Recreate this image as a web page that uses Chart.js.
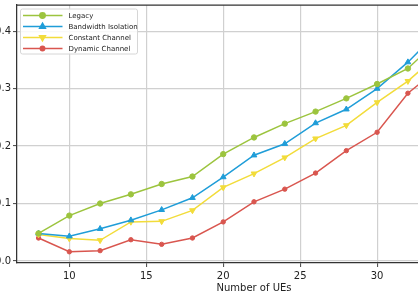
<!DOCTYPE html>
<html>
<head>
<meta charset="utf-8">
<script src="https://cdn.jsdelivr.net/npm/chart.js@4"></script>
<style>
html,body{margin:0;padding:0;background:#fff;overflow:hidden;width:418px;height:300px;}
#wrap{position:absolute;left:-20px;top:0;width:520px;height:300px;}
canvas{display:block;}
</style>
</head>
<body>
<div id="wrap"><canvas id="c" width="520" height="300"></canvas></div>
<script>
const numUEs      = [8, 10, 12, 14, 16, 18, 20, 22, 24, 26, 28, 30, 32, 34, 36];
const legacy      = [0.048, 0.079, 0.100, 0.116, 0.134, 0.147, 0.186, 0.215, 0.239, 0.260, 0.283, 0.308, 0.335, 0.385, 0.415];
const bandwidth   = [0.048, 0.043, 0.056, 0.071, 0.089, 0.110, 0.146, 0.184, 0.204, 0.240, 0.264, 0.300, 0.346, 0.400, 0.425];
const constant    = [0.046, 0.039, 0.036, 0.068, 0.069, 0.088, 0.128, 0.152, 0.180, 0.213, 0.236, 0.276, 0.313, 0.360, 0.395];
const dynamic     = [0.040, 0.016, 0.018, 0.037, 0.029, 0.040, 0.068, 0.103, 0.125, 0.153, 0.192, 0.224, 0.292, 0.335, 0.375];
const seriesNames = ['Legacy', 'Bandwidth Isolation', 'Constant Channel', 'Dynamic Channel'];
const xTicks = [10, 15, 20, 25, 30, 35];
const yTicks = [0.0, 0.1, 0.2, 0.3, 0.4];

const colors = ['#9cc43e', '#1f9dd8', '#f2dc3a', '#d9564f'];
const styles = [
  {pointStyle: 'circle', radius: 2.7, rotation: 0},
  {pointStyle: 'triangle', radius: 3.3, rotation: 0},
  {pointStyle: 'triangle', radius: 3.3, rotation: 180},
  {pointStyle: 'circle', radius: 2.2, rotation: 0}
];
const values = [legacy, bandwidth, constant, dynamic];

const datasets = values.map((vals, i) => ({
  label: seriesNames[i],
  data: numUEs.map((x, j) => ({x: x, y: vals[j]})),
  borderColor: colors[i],
  backgroundColor: colors[i],
  borderWidth: 1.5,
  pointStyle: styles[i].pointStyle,
  pointRadius: styles[i].radius,
  pointRotation: styles[i].rotation,
  pointBorderWidth: 1,
  tension: 0
}));

const frameAndLegend = {
  id: 'frameAndLegend',
  afterDatasetsDraw(chart) {
    const ctx = chart.ctx, ca = chart.chartArea;
    ctx.save();
    ctx.strokeStyle = '#333';
    ctx.lineWidth = 1.25;
    ctx.beginPath();
    ctx.moveTo(ca.left, ca.top);
    ctx.lineTo(ca.right, ca.top);
    ctx.lineTo(ca.right, ca.bottom);
    ctx.stroke();
    const bx = ca.left + 3.5, by = ca.top + 4, bw = 117, bh = 45;
    ctx.fillStyle = 'rgba(255,255,255,0.85)';
    ctx.strokeStyle = '#d6d6d6';
    ctx.lineWidth = 1;
    ctx.beginPath();
    if (ctx.roundRect) ctx.roundRect(bx, by, bw, bh, 2); else ctx.rect(bx, by, bw, bh);
    ctx.fill();
    ctx.stroke();
    ctx.font = '7px "DejaVu Sans"';
    ctx.textBaseline = 'middle';
    ctx.textAlign = 'left';
    chart.data.datasets.forEach((ds, i) => {
      const y = by + 6.5 + i * 11;
      ctx.strokeStyle = ds.borderColor;
      ctx.lineWidth = 1.5;
      ctx.beginPath();
      ctx.moveTo(bx + 2.5, y);
      ctx.lineTo(bx + 42, y);
      ctx.stroke();
      ctx.fillStyle = ds.backgroundColor;
      Chart.helpers.drawPoint(ctx, {pointStyle: ds.pointStyle, radius: ds.pointRadius, rotation: ds.pointRotation, borderWidth: 1}, bx + 22, y);
      ctx.fillStyle = '#222';
      ctx.fillText(ds.label, bx + 48, y + 0.5);
    });
    ctx.restore();
  }
};

new Chart(document.getElementById('c'), {
  type: 'line',
  data: {datasets: datasets},
  plugins: [frameAndLegend],
  options: {
    responsive: false,
    animation: false,
    devicePixelRatio: 1,
    layout: {padding: {left: 0, right: 9, top: 4, bottom: 0}},
    plugins: {legend: {display: false}, tooltip: {enabled: false}},
    scales: {
      x: {
        type: 'linear',
        min: 6.6,
        max: 37.4,
        afterBuildTicks: s => { s.ticks = xTicks.map(v => ({value: v})); },
        afterFit: s => { s.height = 37; s.paddingLeft = 0; s.paddingRight = 0; },
        grid: {color: '#d0d0d0', lineWidth: 1.2, tickLength: 4, tickColor: '#444', tickWidth: 1},
        border: {color: '#333', width: 1.25},
        ticks: {color: '#222', font: {family: 'DejaVu Sans', size: 10}, padding: 3, maxRotation: 0, autoSkip: false,
                callback: v => String(v)},
        title: {display: true, text: 'Number of UEs', color: '#222', font: {family: 'DejaVu Sans', size: 10}, padding: {top: 0, bottom: 6}}
      },
      y: {
        type: 'linear',
        min: -0.0035,
        max: 0.4455,
        afterBuildTicks: s => { s.ticks = yTicks.map(v => ({value: v})); },
        afterFit: s => { s.width = 37; s.paddingTop = 0; s.paddingBottom = 0; },
        grid: {color: '#d0d0d0', lineWidth: 1.2, tickLength: 4, tickColor: '#444', tickWidth: 1},
        border: {color: '#333', width: 1.25},
        ticks: {color: '#222', font: {family: 'DejaVu Sans', size: 10}, padding: 2, autoSkip: false,
                callback: v => Number(v).toFixed(1)}
      }
    }
  }
});
</script>
</body>
</html>
